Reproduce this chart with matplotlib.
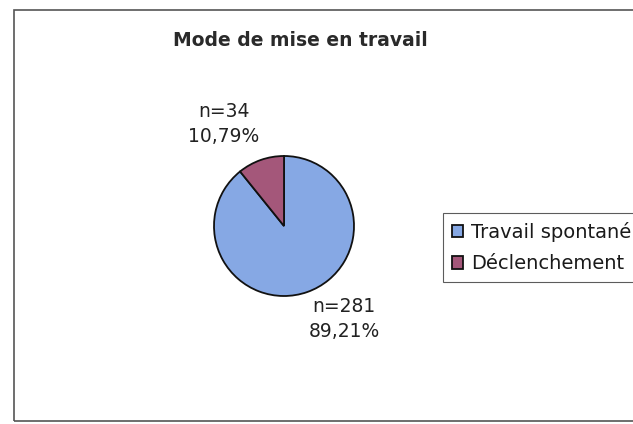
import matplotlib.pyplot as plt
from matplotlib.patches import Rectangle

plt.rcParams['font.family'] = ['DejaVu Sans']

# données
categories = ['Travail spontané', 'Déclenchement']
effectifs = [281, 34]
pourcentages = ['89,21%', '10,79%']
couleurs = ['#86A8E4', '#A4577A']

W, H = 633, 424
fig = plt.figure(figsize=(W / 100, H / 100), dpi=100)

# cadre du graphique
fig.patches.append(Rectangle((14 / W, 3 / H), 1.0, (H - 13) / H, transform=fig.transFigure,
                             fill=False, edgecolor='#555555', linewidth=1.2))

fig.text(300 / W, 1 - 40 / H, 'Mode de mise en travail', ha='center', va='center',
         fontsize=13.5, fontweight='heavy', color='#2a2a2a')

# camembert : centre (284, 226), rayon 70 px
cx, cy, r = 284, 226, 70
ax = fig.add_axes([(cx - r) / W, 1 - (cy + r) / H, 2 * r / W, 2 * r / H])
ax.pie(effectifs, colors=couleurs, startangle=90, counterclock=False,
       wedgeprops=dict(edgecolor='#111111', linewidth=1.3))
ax.set_xlim(-1, 1)
ax.set_ylim(-1, 1)
ax.set_aspect('auto')

# étiquettes
pos = [((344 - cx) / r, (cy - 319) / r), ((224 - cx) / r, (cy - 124) / r)]
for (x, y), n, p in zip(pos, effectifs, pourcentages):
    ax.text(x, y, 'n=%d\n%s' % (n, p), ha='center', va='center', fontsize=13.5,
            linespacing=1.35, color='#222222', clip_on=False)

leg = fig.legend(ax.patches, categories, loc='upper left',
                 bbox_to_anchor=(443 / W, 1 - 213 / H), fontsize=14,
                 frameon=True, fancybox=False, edgecolor='#333333',
                 handlelength=0.6, handleheight=0.6, handletextpad=0.4,
                 borderpad=0.45, labelspacing=0.65, borderaxespad=0)
leg.get_frame().set_linewidth(0.8)
for t in leg.get_texts():
    t.set_color('#1a1a1a')

fig.savefig('out.png', dpi=100)
